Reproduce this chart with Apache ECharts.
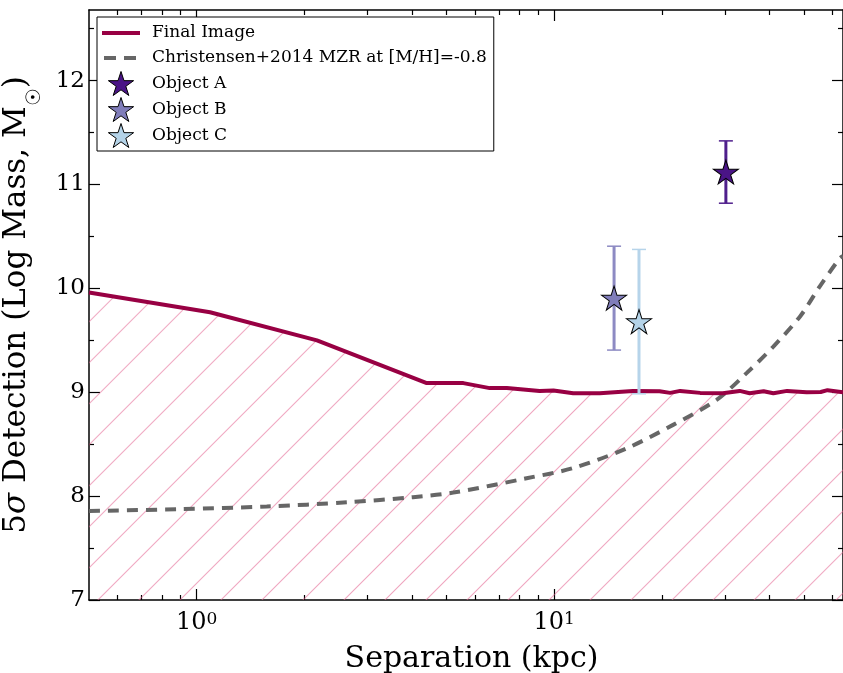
<!DOCTYPE html>
<html><head><meta charset="utf-8">
<script src="https://cdn.jsdelivr.net/npm/echarts@6/dist/echarts.min.js"></script>
<style>html,body{margin:0;padding:0;background:#fff}#c{width:843px;height:673px}</style>
</head><body><div id="c"></div>
<script>
// ---- data ----
const finalSep  = [0.5, 1.09, 2.17, 4.40, 5.57, 6.6, 7.37, 9.1, 9.95, 11.3, 13.4, 16.6, 19.7, 21.1, 22.5, 25.6, 29.6, 33, 35.2, 38.5, 41, 44.8, 50.8, 55.6, 58.1, 64.2];
const finalMass = [9.96, 9.77, 9.50, 9.088, 9.088, 9.04, 9.04, 9.013, 9.016, 8.99, 8.99, 9.013, 9.01, 8.994, 9.013, 8.994, 8.99, 9.013, 8.99, 9.01, 8.99, 9.013, 9.0, 9.003, 9.02, 9.0];

const mzrSep  = [0.5, 0.898, 1.57, 2.63, 4.03, 5.22, 8.37, 11.3, 15.94, 21.5, 28.45, 34.5, 41, 48.7, 55.3, 62.9, 64.2];
const mzrMass = [7.857, 7.874, 7.90, 7.94, 7.99, 8.034, 8.172, 8.27, 8.46, 8.686, 8.927, 9.184, 9.44, 9.73, 10.02, 10.29, 10.31];

const objNames = ['Object A', 'Object B', 'Object C'];
const objSep   = [30.2, 14.7, 17.26];
const objMass  = [11.12, 9.906, 9.68];
const objErr   = [0.30, 0.50, 0.695];

const xMajor = [1, 10];
const xMinor = [0.6, 0.7, 0.8, 0.9, 2, 3, 4, 5, 6, 7, 8, 9, 20, 30, 40, 50, 60];
const yMajor = [7, 8, 9, 10, 11, 12];
const yMinor = [7.5, 8.5, 9.5, 10.5, 11.5, 12.5];

const X_MIN = 0.5, X_MAX = 64.2, Y_MIN = 7, Y_MAX = 12.68;

// ---- styles ----
const starPath = 'path://M0,-100 L22.45,-30.9 L95.1,-30.9 L36.3,11.8 L58.8,80.9 L0,38.2 L-58.8,80.9 L-36.3,11.8 L-95.1,-30.9 L-22.45,-30.9 Z';
const solidIcon = 'path://M0,0 M38,24 M0,10 L38,10 L38,14 L0,14 Z';
const dashIcon  = 'path://M0,0 M38,24 M2,10 L14,10 L14,14 L2,14 Z M22,10 L34,10 L34,14 L22,14 Z';
const objFill = ['#4a1486', '#807dba', '#b4d3e8'];
const errCol  = ['#4f1f8c', '#8d8ac3', '#b6d4ea'];
const FONT = 'DejaVu Serif';

const chart = echarts.init(document.getElementById('c'), null, {renderer: 'canvas'});

const lx = v => Math.log10(v);
const black = '#000';
function tickAxis(pos, isX, values, len, showLine, label) {
  const o = {
    type: 'value', position: pos,
    min: isX ? lx(X_MIN) : Y_MIN, max: isX ? lx(X_MAX) : Y_MAX,
    axisLine: {show: showLine, onZero: false, lineStyle: {color: black, width: 1.5}},
    axisTick: {show: true, inside: true, length: len, customValues: values, lineStyle: {color: black, width: 1.2}},
    axisLabel: {show: false},
    splitLine: {show: false}
  };
  if (label) o.axisLabel = label;
  return o;
}

const option = {
  animation: false,
  backgroundColor: '#fff',
  grid: {left: 89, right: 0, top: 10, bottom: 73, containLabel: false, outerBoundsMode: 'none'},
  xAxis: [
    {type: 'log', position: 'bottom', min: X_MIN, max: X_MAX, logBase: 10,
     axisLine: {show: true, onZero: false, lineStyle: {color: black, width: 1.5}},
     axisTick: {show: false}, axisLabel: {show: false}, splitLine: {show: false}, minorTick: {show: false}},
    Object.assign(tickAxis('bottom', true, xMajor.map(lx), 11, false, {
      show: true, customValues: xMajor.map(lx), margin: 11,
      formatter: v => '{b|10}{s|' + Math.round(v) + '}',
      rich: {
        b: {fontFamily: FONT, fontSize: 24, color: black, lineHeight: 24, verticalAlign: 'bottom', padding: [7, 0, 0, 0]},
        s: {fontFamily: FONT, fontSize: 17, color: black, lineHeight: 17, verticalAlign: 'top'}
      }
    }), {
      name: 'Separation (kpc)', nameLocation: 'middle', nameGap: 44,
      nameTextStyle: {fontFamily: FONT, fontSize: 30, color: black, padding: [0, 0, 0, 11]}
    }),
    tickAxis('bottom', true, xMinor.map(lx), 5, false),
    tickAxis('top', true, xMajor.map(lx), 11, true),
    tickAxis('top', true, xMinor.map(lx), 5, false)
  ],
  yAxis: [
    Object.assign(tickAxis('left', false, yMajor, 11, true, {
      show: true, customValues: yMajor, margin: 4,
      fontFamily: FONT, fontSize: 23, color: black
    }), {
      name: '{n|5}{i|σ}{n| Detection (Log Mass, M}{s|☉}{n|)}',
      nameLocation: 'middle', nameRotate: 90, nameGap: 35,
      nameTextStyle: {
        rich: {
          n: {fontFamily: FONT, fontSize: 31, color: black, lineHeight: 34, verticalAlign: 'bottom', padding: [0, 0, 12, 0]},
          i: {fontFamily: FONT, fontSize: 31, fontStyle: 'italic', color: black, lineHeight: 34, verticalAlign: 'bottom', padding: [0, 0, 12, 0]},
          s: {fontFamily: FONT, fontSize: 20, color: black, lineHeight: 22, verticalAlign: 'bottom'}
        }
      }
    }),
    tickAxis('left', false, yMinor, 5, false),
    tickAxis('right', false, yMajor, 11, true),
    tickAxis('right', false, yMinor, 5, false)
  ],
  legend: {
    left: 97, top: 17, orient: 'vertical',
    padding: [4, 7, 3, 5], itemWidth: 38, itemHeight: 24, itemGap: 1,
    backgroundColor: '#fff', borderColor: black, borderWidth: 1, borderRadius: 0,
    selectedMode: false,
    textStyle: {fontFamily: FONT, fontSize: 17, color: black, padding: [0, 0, 0, 7]},
    itemStyle: {borderWidth: 1, borderColor: black},
    data: [
      {name: 'Final Image', icon: solidIcon, itemStyle: {borderWidth: 0}},
      {name: 'Christensen+2014 MZR at [M/H]=-0.8', icon: dashIcon, itemStyle: {borderWidth: 0}}
    ].concat(objNames)
  },
  series: [
    {
      type: 'line', name: 'hatch', xAxisIndex: 0, yAxisIndex: 0, z: 1, silent: true,
      data: finalSep.map((s, i) => [s, finalMass[i]]),
      symbol: 'none', lineStyle: {width: 0, opacity: 0},
      areaStyle: {color: 'rgba(0,0,0,0)', origin: 'start'},
      itemStyle: {decal: {symbol: 'rect', symbolSize: 1, color: 'rgba(228,100,145,0.8)',
        dashArrayX: [1, 0], dashArrayY: [1, 28], rotation: -Math.PI / 4}}
    },
    {
      type: 'line', name: 'Final Image', xAxisIndex: 0, yAxisIndex: 0, z: 3,
      data: finalSep.map((s, i) => [s, finalMass[i]]),
      symbol: 'none', color: '#980043',
      lineStyle: {color: '#980043', width: 4}
    },
    {
      type: 'line', name: 'Christensen+2014 MZR at [M/H]=-0.8', xAxisIndex: 0, yAxisIndex: 0, z: 2,
      data: mzrSep.map((s, i) => [s, mzrMass[i]]),
      symbol: 'none', smooth: 0.3, color: '#666666',
      lineStyle: {color: '#666666', width: 4, type: [11, 8], cap: 'butt'}
    },
    {
      type: 'custom', name: 'errbars', xAxisIndex: 0, yAxisIndex: 0, z: 4, silent: true,
      data: objSep.map((s, i) => [s, objMass[i] - objErr[i], objMass[i] + objErr[i], i]),
      encode: {x: 0, y: [1, 2]},
      renderItem: (params, api) => {
        const lo = api.coord([api.value(0), api.value(1)]);
        const hi = api.coord([api.value(0), api.value(2)]);
        const c = errCol[api.value(3)];
        const cap = 7;
        return {type: 'group', children: [
          {type: 'line', shape: {x1: lo[0], y1: lo[1], x2: hi[0], y2: hi[1]}, style: {stroke: c, lineWidth: 3}},
          {type: 'line', shape: {x1: lo[0] - cap, y1: lo[1], x2: lo[0] + cap, y2: lo[1]}, style: {stroke: c, lineWidth: 1.5}},
          {type: 'line', shape: {x1: hi[0] - cap, y1: hi[1], x2: hi[0] + cap, y2: hi[1]}, style: {stroke: c, lineWidth: 1.5}}
        ]};
      }
    }
  ].concat(objNames.map((n, i) => ({
    type: 'scatter', name: n, xAxisIndex: 0, yAxisIndex: 0, z: 5,
    data: [[objSep[i], objMass[i]]],
    symbol: starPath, symbolSize: [25, 24],
    itemStyle: {color: objFill[i], borderColor: black, borderWidth: 1, opacity: 1}
  })))
};
chart.setOption(option);
</script>
</body></html>
